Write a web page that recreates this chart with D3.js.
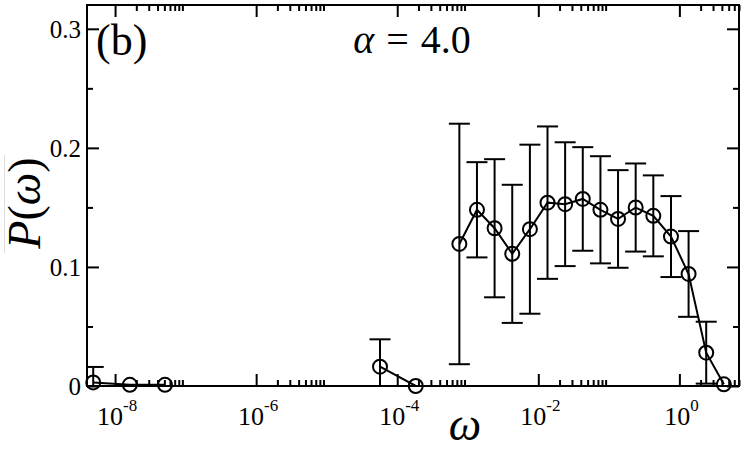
<!DOCTYPE html>
<html><head><meta charset="utf-8">
<script src="https://cdn.jsdelivr.net/npm/d3@7"></script>
<style>
body{margin:0;background:#fff;}
svg{display:block;}
</style></head>
<body><svg id="chart" width="748" height="449"></svg>
<script>
// ---- data ----
const omega = [4.9e-9, 1.62e-8, 5.1e-8,
  5.7e-5, 1.83e-4,
  7.6e-4, 1.35e-3, 2.4e-3, 4.27e-3, 7.6e-3, 1.35e-2, 2.4e-2, 4.27e-2, 7.6e-2,
  0.135, 0.24, 0.427, 0.76, 1.35, 2.4, 4.27];
const P = [0.003, 0.001, 0.001,
  0.0162, 0.0,
  0.1193, 0.148, 0.1325, 0.111, 0.1317, 0.154, 0.1527, 0.1571, 0.148,
  0.1403, 0.1499, 0.1429, 0.1255, 0.0941, 0.028, 0.0014];
const err = [0.013, 0, 0,
  0.023, 0,
  0.101, 0.040, 0.058, 0.058, 0.071, 0.064, 0.052, 0.0435, 0.045,
  0.041, 0.037, 0.034, 0.034, 0.036, 0.026, 0];
const segment = [0, 0, 0, 1, 1, 2, 2, 2, 2, 2, 2, 2, 2, 2, 2, 2, 2, 2, 2, 2, 2];
const xMajor = [1e-8, 1e-6, 1e-4, 1e-2, 1e0];
const xMajorExp = ["-8", "-6", "-4", "-2", "0"];
const yMajor = [0, 0.1, 0.2, 0.3];
const yMajorLabels = ["0", "0.1", "0.2", "0.3"];
const yMinor = [0.05, 0.15, 0.25];
const xDomain = [4e-9, 7];
const yDomain = [0, 0.32];
const panelLabel = "(b)";

// ---- layout ----
const FONT = "'Liberation Serif'";
const W = 748, H = 449;
const m = {left: 87, top: 5, right: 9, bottom: 63};
const iw = W - m.left - m.right, ih = H - m.top - m.bottom;
const svg = d3.select("#chart");
const g = svg.append("g").attr("transform", `translate(${m.left},${m.top})`);

const x = d3.scaleLog().domain(xDomain).range([0, iw]);
const y = d3.scaleLinear().domain(yDomain).range([ih, 0]);

const xMinor = [];
xMajor.forEach(v => { for (let k = 2; k <= 9; k++) { const t = v * k; if (t <= xDomain[1]) xMinor.push(t); } });

svg.append("defs").append("clipPath").attr("id", "clip")
  .append("rect").attr("x", 0).attr("y", 0).attr("width", iw).attr("height", ih);

function styleAxis(sel) {
  sel.selectAll(".domain").remove();
  sel.selectAll("line").attr("stroke", "#000").attr("stroke-width", 2);
  sel.selectAll("text").remove();
}
g.append("g").attr("transform", `translate(0,${ih})`).call(d3.axisBottom(x).tickValues(xMajor).tickSize(-12).tickFormat("")).call(styleAxis);
g.append("g").attr("transform", `translate(0,${ih})`).call(d3.axisBottom(x).tickValues(xMinor).tickSize(-6).tickFormat("")).call(styleAxis);
g.append("g").call(d3.axisTop(x).tickValues(xMajor).tickSize(-12).tickFormat("")).call(styleAxis);
g.append("g").call(d3.axisTop(x).tickValues(xMinor).tickSize(-6).tickFormat("")).call(styleAxis);
g.append("g").call(d3.axisLeft(y).tickValues(yMajor).tickSize(-12).tickFormat("")).call(styleAxis);
g.append("g").call(d3.axisLeft(y).tickValues(yMinor).tickSize(-6).tickFormat("")).call(styleAxis);
g.append("g").attr("transform", `translate(${iw},0)`).call(d3.axisRight(y).tickValues(yMajor).tickSize(-12).tickFormat("")).call(styleAxis);
g.append("g").attr("transform", `translate(${iw},0)`).call(d3.axisRight(y).tickValues(yMinor).tickSize(-6).tickFormat("")).call(styleAxis);

g.append("rect").attr("x", 0).attr("y", 0).attr("width", iw).attr("height", ih)
  .attr("fill", "none").attr("stroke", "#000").attr("stroke-width", 2);

g.selectAll(".ylab").data(yMajor).enter().append("text")
  .style("font-family", FONT)
  .attr("x", -6).attr("y", d => y(d) + 9).attr("text-anchor", "end")
  .attr("font-size", 25).text((d, i) => yMajorLabels[i]);

xMajor.forEach((v, i) => {
  const t = g.append("text").style("font-family", FONT).attr("x", x(v) + 2).attr("y", ih + 39).attr("text-anchor", "middle").attr("font-size", 26);
  t.append("tspan").text("10");
  t.append("tspan").attr("font-size", 17).attr("dy", -14).text(xMajorExp[i]);
});

const pts = omega.map((w, i) => ({w, p: P[i], e: err[i], s: segment[i]}));
const plot = g.append("g").attr("clip-path", "url(#clip)");
const line = d3.line().x(d => x(d.w)).y(d => y(d.p));
d3.groups(pts, d => d.s).forEach(([k, arr]) => {
  plot.append("path").attr("d", line(arr)).attr("fill", "none").attr("stroke", "#000").attr("stroke-width", 2);
});
const eb = pts.filter(d => d.e > 0);
const cap = 10.5;
plot.selectAll(".ev").data(eb).enter().append("line")
  .attr("x1", d => x(d.w)).attr("x2", d => x(d.w))
  .attr("y1", d => y(d.p + d.e)).attr("y2", d => y(d.p - d.e))
  .attr("stroke", "#000").attr("stroke-width", 2);
plot.selectAll(".ct").data(eb).enter().append("line")
  .attr("x1", d => x(d.w) - cap).attr("x2", d => x(d.w) + cap)
  .attr("y1", d => y(d.p + d.e)).attr("y2", d => y(d.p + d.e))
  .attr("stroke", "#000").attr("stroke-width", 2);
plot.selectAll(".cb").data(eb).enter().append("line")
  .attr("x1", d => x(d.w) - cap).attr("x2", d => x(d.w) + cap)
  .attr("y1", d => y(d.p - d.e)).attr("y2", d => y(d.p - d.e))
  .attr("stroke", "#000").attr("stroke-width", 2);
g.selectAll(".pt").data(pts).enter().append("circle")
  .attr("cx", d => x(d.w)).attr("cy", d => y(d.p)).attr("r", 7)
  .attr("fill", "none").attr("stroke", "#000").attr("stroke-width", 2);

svg.append("text").style("font-family", FONT).attr("x", 96).attr("y", 55).attr("font-size", 44).text(panelLabel);
const tt = svg.append("text").style("font-family", FONT).attr("x", 412).attr("y", 53).attr("text-anchor", "middle").attr("font-size", 40);
tt.append("tspan").attr("font-style", "italic").text("α");
tt.append("tspan").attr("dx", 12).text("=");
tt.append("tspan").attr("dx", 12).text("4.0");

const yl = svg.append("text").style("font-family", FONT).attr("transform", "translate(40,203) rotate(-90)").attr("text-anchor", "middle").attr("font-size", 46);
yl.append("tspan").attr("font-style", "italic").text("P");
yl.append("tspan").text("(");
yl.append("tspan").attr("font-style", "italic").text("ω");
yl.append("tspan").text(")");
svg.append("line").attr("x1", 4.5).attr("x2", 4.5).attr("y1", 155).attr("y2", 253).attr("stroke", "#ddd").attr("stroke-width", 1);
svg.append("text").style("font-family", FONT).attr("x", 465).attr("y", 440).attr("text-anchor", "middle").attr("font-size", 46).attr("font-style", "italic").text("ω");
</script></body></html>
